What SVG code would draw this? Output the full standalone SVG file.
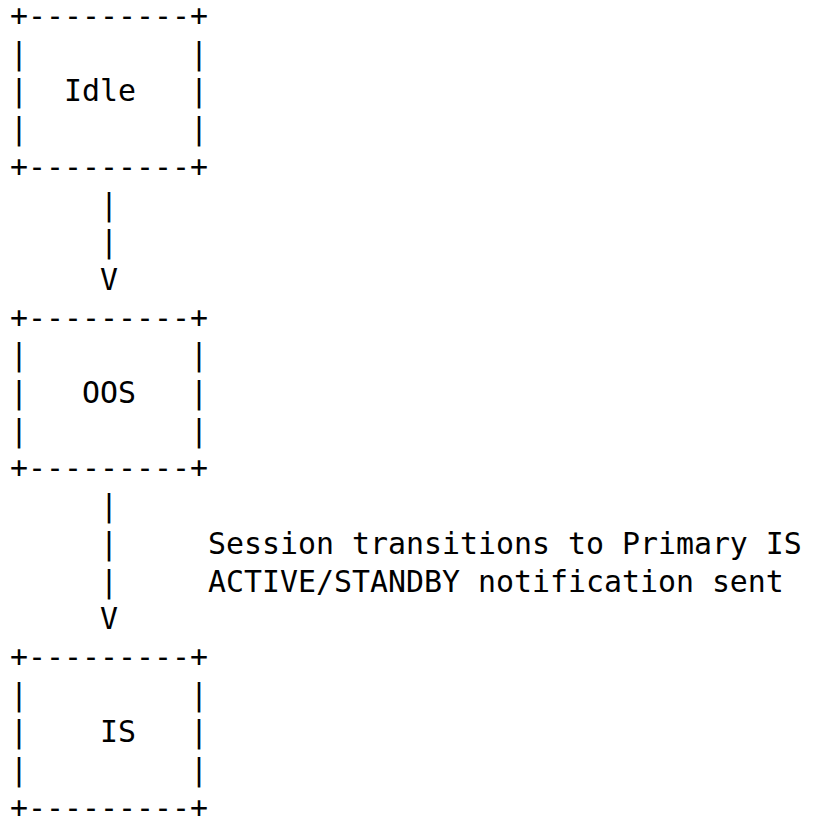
<svg xmlns="http://www.w3.org/2000/svg" width="814" height="818" viewBox="0 0 814 818">
  <style>
    text { font-family: "DejaVu Sans Mono", "Liberation Mono", monospace; font-size: 29.9px; fill: #000; white-space: pre; }
  </style>
  <rect width="814" height="818" fill="#fff"/>
  <!-- state: Idle -->
  <g id="idle" xml:space="preserve">
    <text x="10" y="26">+---------+</text>
    <text x="10" y="63.7">|         |</text>
    <text x="10" y="101.4">|  Idle   |</text>
    <text x="10" y="139.1">|         |</text>
    <text x="10" y="176.8">+---------+</text>
  </g>
  <!-- state: OOS -->
  <g id="oos" xml:space="preserve">
    <text x="10" y="327.6">+---------+</text>
    <text x="10" y="365.3">|         |</text>
    <text x="10" y="403">|   OOS   |</text>
    <text x="10" y="440.7">|         |</text>
    <text x="10" y="478.4">+---------+</text>
  </g>
  <!-- state: IS -->
  <g id="is" xml:space="preserve">
    <text x="10" y="666.9">+---------+</text>
    <text x="10" y="704.6">|         |</text>
    <text x="10" y="742.3">|    IS   |</text>
    <text x="10" y="780">|         |</text>
    <text x="10" y="817.7">+---------+</text>
  </g>
  <!-- transitions -->
  <g id="connectors" xml:space="preserve">
    <text x="100" y="214.5">|</text>
    <text x="100" y="252.2">|</text>
    <text x="100" y="289.9">V</text>
    <text x="100" y="516.1">|</text>
    <text x="100" y="553.8">|</text>
    <text x="100" y="591.5">|</text>
    <text x="100" y="629.2">V</text>
  </g>
  <g id="label-oos-is">
    <text x="208" y="553.8">Session transitions to Primary IS</text>
    <text x="208" y="591.5">ACTIVE/STANDBY notification sent</text>
  </g>
</svg>
